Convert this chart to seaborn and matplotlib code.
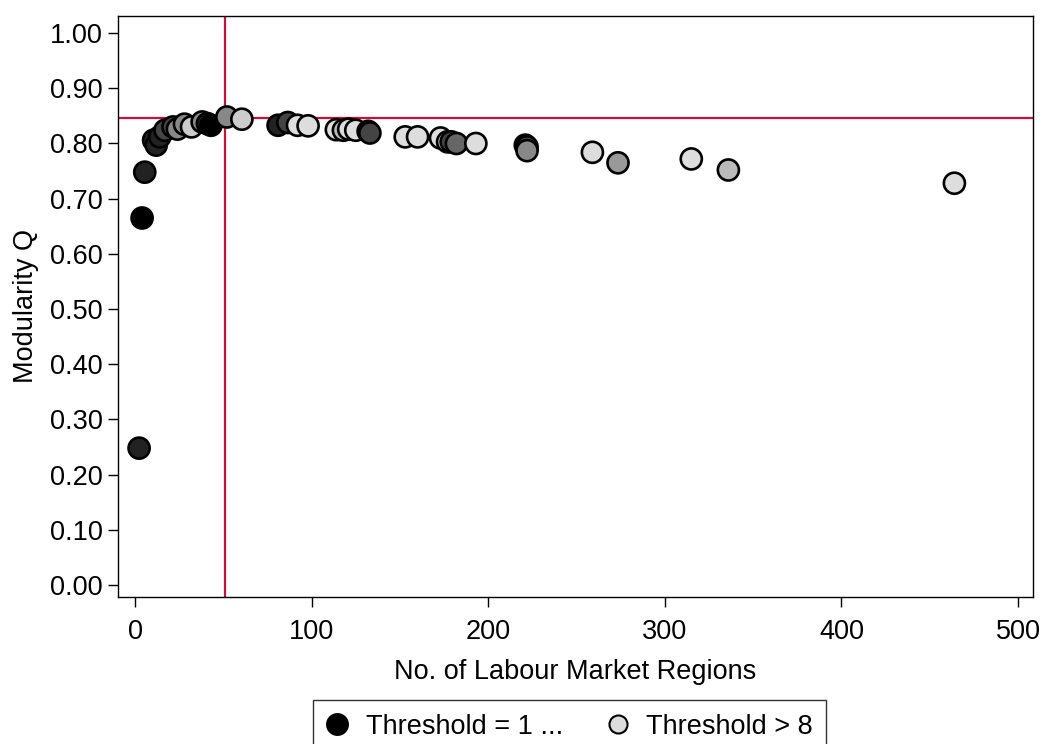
import pandas as pd
import seaborn as sns
import matplotlib.pyplot as plt
from matplotlib.lines import Line2D

# Werte
regions = [2.3, 4, 5.5, 10.5, 12, 14, 17, 21.5, 24, 28, 32, 38, 41, 43, 52, 60.5,
           81, 86.5, 92, 98, 114, 118, 121, 125, 132, 133, 153, 160, 173, 177,
           179, 182, 193, 221, 222, 222, 259, 273.5, 315, 336, 464]
modularity = [0.248, 0.665, 0.748, 0.806, 0.797, 0.812, 0.824, 0.830, 0.826, 0.835,
              0.830, 0.839, 0.836, 0.833, 0.848, 0.844, 0.833, 0.838, 0.833, 0.832,
              0.825, 0.824, 0.826, 0.824, 0.822, 0.819, 0.812, 0.812, 0.810, 0.803,
              0.803, 0.800, 0.800, 0.797, 0.794, 0.787, 0.784, 0.765, 0.772, 0.752,
              0.728]
threshold = [2, 1, 2, 2, 2, 2, 3, 3, 5, 5, 8, 5, 2, 1, 5, 8,
             2, 3, 9, 9, 9, 7, 9, 9, 2, 3, 9, 9, 9, 9,
             3, 4, 9, 2, 3, 5, 9, 6, 9, 7, 9]
best_q = 0.846
best_n = 51
legend_labels = ['Threshold = 1 ...', 'Threshold > 8']

df = pd.DataFrame({'regions': regions, 'Q': modularity, 'thr': threshold})
grays = {1: '#000000', 2: '#222222', 3: '#444444', 4: '#666666', 5: '#888888',
         6: '#999999', 7: '#bbbbbb', 8: '#cccccc', 9: '#dddddd'}

sns.set_style('white')
plt.rcParams['font.family'] = ['Liberation Sans', 'DejaVu Sans']
plt.rcParams['text.color'] = 'black'
fs = 19.5

fig = plt.figure(figsize=(10.45, 7.44), dpi=100)
ax = fig.add_axes([0.113, 0.1976, 0.8755, 0.7809])

ax.axhline(best_q, color='#c8103c', lw=1.6, zorder=1)
ax.axvline(best_n, color='#c8103c', lw=1.6, zorder=1)
sns.scatterplot(data=df, x='regions', y='Q', hue='thr', palette=grays, s=230,
                edgecolor='black', linewidth=1.9, legend=False, ax=ax, zorder=3)

ax.set_xlim(-9.6, 508.5)
ax.set_ylim(-0.0217, 1.031)
ax.set_xticks([0, 100, 200, 300, 400, 500])
ax.set_yticks([i / 10 for i in range(11)])
ax.set_yticklabels([f'{i / 10:.2f}' for i in range(11)])
ax.tick_params(axis='both', direction='out', length=7, width=1, color='black',
               labelcolor='black', labelsize=fs, left=True, bottom=True, pad=4)
ax.tick_params(axis='x', pad=9)
for sp in ax.spines.values():
    sp.set_color('black')
    sp.set_linewidth(1)

ax.set_xlabel('No. of Labour Market Regions', fontsize=fs, color='black', labelpad=10)
ax.set_ylabel('Modularity Q', fontsize=fs, color='black', labelpad=8)

handles = [Line2D([], [], marker='o', ls='', markersize=15, markerfacecolor='black',
                  markeredgecolor='black', markeredgewidth=1.5),
           Line2D([], [], marker='o', ls='', markersize=13, markerfacecolor='#dddddd',
                  markeredgecolor='black', markeredgewidth=1.5)]
leg = fig.legend(handles, legend_labels, loc='upper center', bbox_to_anchor=(0.545, 0.059),
                 ncol=2, fontsize=fs, frameon=True, fancybox=False, handletextpad=0.64,
                 columnspacing=1.63, handlelength=0.8, borderpad=0.5, borderaxespad=0)
leg.get_frame().set_edgecolor('black')
leg.get_frame().set_linewidth(1)

fig.savefig('out.png', dpi=100)
